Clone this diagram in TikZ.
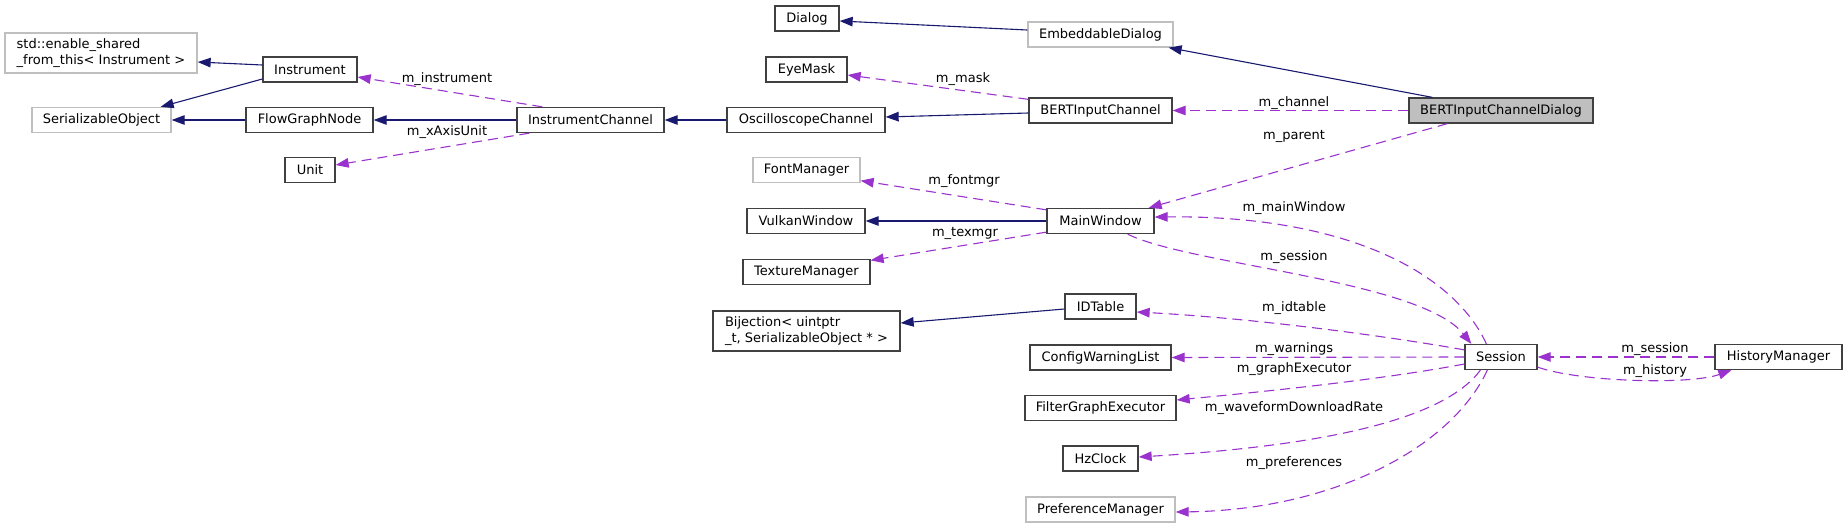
\documentclass[tikz,border=0pt]{standalone}
\usepackage{fontspec}
\setmainfont{DejaVu Sans}
\usetikzlibrary{arrows.meta}
\definecolor{navyedge}{HTML}{191970}
\definecolor{purpedge}{HTML}{9A32CD}
\definecolor{graybd}{HTML}{BFBFBF}
\definecolor{darkbd}{HTML}{404040}
\definecolor{mainfill}{HTML}{BFBFBF}
\begin{document}
\begin{tikzpicture}[x=1pt,y=-1pt,
  font=\fontsize{13}{16.5}\selectfont,
  cls/.style={draw=darkbd, line width=1.3pt, fill=white, inner sep=0pt, minimum height=25pt, align=left},
  ucls/.style={cls, draw=graybd},
  maincls/.style={cls, fill=mainfill},
  inh/.style={draw=navyedge, line width=1.1pt, -{Triangle[length=13pt,width=9.5pt]}},
  use/.style={draw=purpedge, line width=1.1pt, dash pattern=on 10pt off 6pt, -{Triangle[length=13pt,width=9.5pt]}},
  lbl/.style={inner sep=0pt, text=black}
]
\useasboundingbox (0,0) rectangle (1847,528);

% nodes
\node[ucls, minimum width=192pt, minimum height=40pt] (enable) at (101,53) {std::enable\_shared\\\_from\_this< Instrument >};
\node[cls, minimum width=94pt] (inst) at (310,69.5) {Instrument};
\node[ucls, minimum width=139pt] (ser) at (101.5,120) {SerializableObject};
\node[cls, minimum width=127pt] (fgn) at (309.5,120) {FlowGraphNode};
\node[cls, minimum width=50pt] (unit) at (310,170) {Unit};
\node[cls, minimum width=147pt] (ich) at (590.5,120) {InstrumentChannel};
\node[cls, minimum width=64pt] (dialog) at (807,18.5) {Dialog};
\node[ucls, minimum width=145pt] (emb) at (1100.5,34.5) {EmbeddableDialog};
\node[cls, minimum width=81pt] (eye) at (806.5,69.5) {EyeMask};
\node[cls, minimum width=158pt] (osc) at (806,120) {OscilloscopeChannel};
\node[cls, minimum width=143pt] (bic) at (1100.5,110.5) {BERTInputChannel};
\node[maincls, minimum width=184pt] (bicd) at (1501,110.5) {BERTInputChannelDialog};
\node[ucls, minimum width=107pt] (font) at (806.5,170) {FontManager};
\node[cls, minimum width=118pt] (vulkan) at (806,221) {VulkanWindow};
\node[cls, minimum width=107pt] (mainw) at (1100.5,221) {MainWindow};
\node[cls, minimum width=127pt] (tex) at (806.5,272) {TextureManager};
\node[cls, minimum width=71pt] (idt) at (1100.5,306.5) {IDTable};
\node[cls, minimum width=187pt, minimum height=40pt] (bij) at (806.5,331) {Bijection< uintptr\\\_t, SerializableObject * >};
\node[cls, minimum width=141pt] (cwl) at (1100.5,357.5) {ConfigWarningList};
\node[cls, minimum width=151pt] (fge) at (1100.5,408) {FilterGraphExecutor};
\node[cls, minimum width=75pt] (hz) at (1100.5,458.5) {HzClock};
\node[ucls, minimum width=149pt] (pref) at (1100.5,509.5) {PreferenceManager};
\node[cls, minimum width=72pt] (sess) at (1501,357) {Session};
\node[cls, minimum width=127pt] (hist) at (1778.5,357) {HistoryManager};

% inheritance
\draw[inh] ([yshift=4.5pt]inst.west) -- ([yshift=-9pt]enable.east);
\draw[inh] ([yshift=-9.5pt]inst.west) -- ([xshift=-11pt]ser.north east);
\draw[inh] (fgn.west) -- (ser.east);
\draw[inh] (ich.west) -- (fgn.east);
\draw[inh] (osc.west) -- (ich.east);
\draw[inh] ([yshift=-2.5pt]bic.west) -- ([yshift=3pt]osc.east);
\draw[inh] ([yshift=4.5pt]emb.west) -- ([yshift=-2.5pt]dialog.east);
\draw[inh] ([xshift=24pt]bicd.north west) -- ([xshift=-5pt]emb.south east);
\draw[inh] (mainw.west) -- (vulkan.east);
\draw[inh] ([yshift=-2.5pt]idt.west) -- ([yshift=8pt]bij.east);

% usage
\draw[use] ([xshift=26pt]ich.north west) -- ([yshift=-7.5pt]inst.east);
\node[lbl] (l1) at (447,79) {m\_instrument};
\draw[use] ([xshift=13pt]ich.south west) -- ([yshift=5pt]unit.east);
\node[lbl] (l2) at (447,132) {m\_xAxisUnit};
\draw[use] ([yshift=-2pt]bic.north west) -- ([yshift=-5.5pt]eye.east);
\node[lbl] (l3) at (963,79) {m\_mask};
\draw[use] (bicd.west) -- (bic.east);
\node[lbl] (l4) at (1294,103) {m\_channel};
\draw[use] ([xshift=39pt]bicd.south west) -- ([xshift=-6pt]mainw.north east);
\node[lbl] (l5) at (1294,136) {m\_parent};
\draw[use] ([yshift=-2pt]mainw.north west) -- ([yshift=2.5pt]font.south east);
\node[lbl] (l6) at (964,181) {m\_fontmgr};
\draw[use] ([yshift=2pt]mainw.south west) -- ([yshift=-1.5pt]tex.north east);
\node[lbl] (l7) at (965,233) {m\_texmgr};
\draw[use] ([xshift=22pt]sess.north west) .. controls (1455,275) and (1350,215) .. ([yshift=4pt]mainw.east);
\node[lbl] (l8) at (1294,208) {m\_mainWindow};
\draw[use] ([xshift=-27pt]mainw.south east) .. controls (1190,265) and (1420,280) .. ([xshift=7pt]sess.north west);
\node[lbl] (l9) at (1294,257) {m\_session};
\draw[use] ([yshift=-6pt]sess.north west) .. controls (1380,335) and (1250,318) .. ([yshift=-5.5pt]idt.east);
\node[lbl] (l10) at (1294,308) {m\_idtable};
\draw[use] (sess.west) -- (cwl.east);
\node[lbl] (l11) at (1294,349) {m\_warnings};
\draw[use] ([yshift=-7pt]sess.west) .. controls (1380,380) and (1260,392) .. ([yshift=8pt]fge.east);
\node[lbl] (l12) at (1294,369) {m\_graphExecutor};
\draw[use] ([xshift=16pt]sess.south west) .. controls (1440,425) and (1300,447) .. ([yshift=1.5pt]hz.east);
\node[lbl] (l13) at (1294,408) {m\_waveformDownloadRate};
\draw[use] ([xshift=23pt]sess.south west) .. controls (1450,450) and (1330,510) .. ([yshift=-2.5pt]pref.east);
\node[lbl] (l14) at (1294,463) {m\_preferences};
\draw[use] (hist.west) -- (sess.east);
\node[lbl] (l15) at (1655,349) {m\_session};
\draw[use] ([yshift=3pt]sess.south east) .. controls (1580,382) and (1690,385) .. ([xshift=17pt]hist.south west);
\node[lbl] (l16) at (1655,371) {m\_history};
\end{tikzpicture}
\end{document}
